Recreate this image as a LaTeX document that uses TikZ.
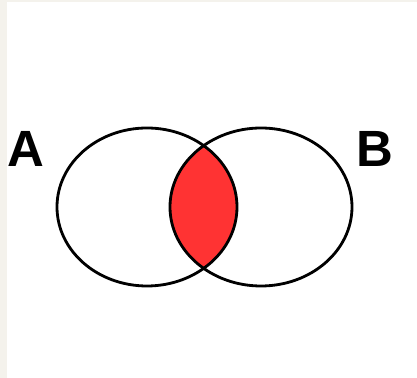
\documentclass[tikz,border=0pt]{standalone}
\usepackage{fontspec}
\setmainfont{Liberation Sans}
\usepackage{tikz}
\usetikzlibrary{positioning}
\definecolor{lensred}{RGB}{255,51,51}
\definecolor{edgegray}{RGB}{244,242,236}
\tikzset{
  venn/.style={x=0.02cm,y=-0.02cm,line width=1.6pt},
  setline/.style={draw=black},
  lens/.style={fill=lensred},
  setlabel/.style={inner sep=0pt,font=\fontsize{29}{29}\selectfont\bfseries}}

\begin{document}
\begin{tikzpicture}[venn]
  \useasboundingbox (0,0) rectangle (417,378);
  \fill[edgegray] (0,0) rectangle (7,378);
  \fill[edgegray] (0,0) rectangle (417,2);
  \coordinate (cA) at (147,207);
  \coordinate (cB) at (261,207);
  % overlap of the two sets
  \begin{scope}
    \clip (cA) ellipse [x radius=90, y radius=79];
    \fill[lens] (cB) ellipse [x radius=91, y radius=79];
  \end{scope}
  \draw[setline] (cA) ellipse [x radius=90, y radius=79];
  \draw[setline] (cB) ellipse [x radius=91, y radius=79];
  \node[setlabel] (A) at (26,149) {A};
  \node[setlabel] (B) at (375,149) {B};
\end{tikzpicture}
\end{document}
